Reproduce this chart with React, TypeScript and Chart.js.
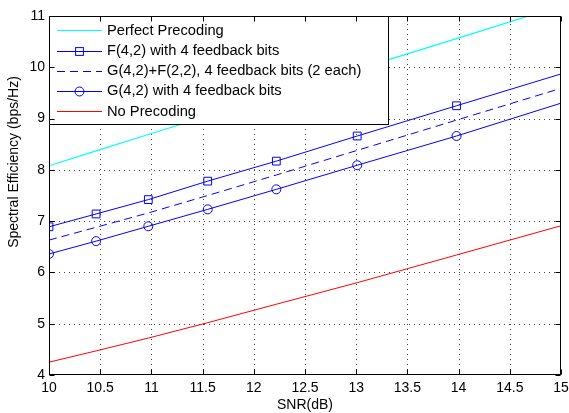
import React, { useEffect, useRef } from "react";
import { Chart, registerables } from "chart.js";

Chart.register(...registerables);

const snrDb = [10, 10.46, 10.97, 11.55, 12.22, 13.01, 13.98, 15];
const perfectPrecoding = [8.08, 8.37, 8.69, 9.05, 9.47, 9.96, 10.56, 11.2];
const f42 = [6.89, 7.14, 7.42, 7.78, 8.17, 8.66, 9.25, 9.87];
const g42f22 = [6.63, 6.88, 7.16, 7.5, 7.9, 8.38, 8.97, 9.59];
const g42 = [6.36, 6.61, 6.9, 7.23, 7.62, 8.09, 8.66, 9.3];
const noPrecoding = [4.25, 4.47, 4.72, 5.02, 5.38, 5.8, 6.34, 6.91];

const legendLabels = [
  "Perfect Precoding",
  "F(4,2) with 4 feedback bits",
  "G(4,2)+F(2,2), 4 feedback bits (2 each)",
  "G(4,2) with 4 feedback bits",
  "No Precoding",
];
const xTitle = "SNR(dB)";
const yTitle = "Spectral Efficiency (bps/Hz)";

const FONT = '"Liberation Sans", Arial, Helvetica, sans-serif';

const toXY = (ys: number[]) => ys.map((y, i) => ({ x: snrDb[i], y }));
const markerRadii = (r: number) => snrDb.map((_, i) => (i === snrDb.length - 1 ? 0 : r));

const matlabPlugin = {
  id: "matlabDecor",
  beforeDatasetsDraw(chart: any) {
    const { ctx, chartArea: a, scales } = chart;
    ctx.save();
    ctx.strokeStyle = "rgba(0,0,0,0.75)";
    ctx.lineWidth = 1;
    ctx.setLineDash([1, 4]);
    scales.x.ticks.forEach((t: any) => {
      const px = Math.round(scales.x.getPixelForValue(t.value)) + 0.5;
      if (px <= a.left + 1 || px >= a.right - 1) return;
      ctx.beginPath();
      ctx.moveTo(px, a.bottom);
      ctx.lineTo(px, a.top);
      ctx.stroke();
    });
    scales.y.ticks.forEach((t: any) => {
      const py = Math.round(scales.y.getPixelForValue(t.value)) + 0.5;
      if (py <= a.top + 1 || py >= a.bottom - 1) return;
      ctx.beginPath();
      ctx.moveTo(a.left, py);
      ctx.lineTo(a.right, py);
      ctx.stroke();
    });
    ctx.restore();
  },
  afterDatasetsDraw(chart: any) {
    const { ctx, chartArea: a, scales } = chart;
    ctx.save();
    // Legend box
    const lx = a.left;
    const ly = a.top;
    const lw = 339;
    const lh = 108;
    ctx.fillStyle = "#fff";
    ctx.fillRect(lx, ly, lw, lh);
    ctx.strokeStyle = "#000";
    ctx.lineWidth = 1;
    ctx.setLineDash([]);
    ctx.strokeRect(Math.round(lx) + 0.5, Math.round(ly) + 0.5, lw, lh);

    const ds = chart.data.datasets;
    const rowYs = [30, 50.5, 70.7, 90.7, 111];
    const x1 = 57;
    const x2 = 102;
    ctx.font = `14.7px ${FONT}`;
    ctx.textBaseline = "middle";
    ctx.textAlign = "left";
    legendLabels.forEach((label, i) => {
      const d = ds[i];
      const y = Math.round(rowYs[i]) + 0.5;
      ctx.strokeStyle = d.borderColor;
      ctx.lineWidth = 1;
      ctx.setLineDash(d.borderDash || []);
      ctx.beginPath();
      ctx.moveTo(x1, y);
      ctx.lineTo(x2, y);
      ctx.stroke();
      ctx.setLineDash([]);
      const mx = (x1 + x2) / 2;
      if (d.pointStyle === "rect") {
        ctx.strokeRect(mx - 3.9, y - 3.9, 7.8, 7.8);
      } else if (d.pointStyle === "circle") {
        ctx.beginPath();
        ctx.arc(mx, y, 4.5, 0, Math.PI * 2);
        ctx.stroke();
      }
      ctx.fillStyle = "#000";
      ctx.fillText(label, 107, rowYs[i] + 0.5);
    });

    // Axes box
    ctx.strokeStyle = "#000";
    ctx.lineWidth = 1;
    const L = Math.round(a.left) + 0.5;
    const R = Math.round(a.right) - 0.5;
    const T = Math.round(a.top) + 0.5;
    const B = Math.round(a.bottom) - 0.5;
    ctx.strokeRect(L, T, R - L, B - T);
    // inward ticks
    const tl = 5;
    ctx.beginPath();
    scales.x.ticks.forEach((t: any) => {
      const px = Math.round(scales.x.getPixelForValue(t.value)) + 0.5;
      ctx.moveTo(px, B);
      ctx.lineTo(px, B - tl);
      ctx.moveTo(px, T);
      ctx.lineTo(px, T + tl);
    });
    scales.y.ticks.forEach((t: any) => {
      const py = Math.round(scales.y.getPixelForValue(t.value)) + 0.5;
      ctx.moveTo(L, py);
      ctx.lineTo(L + tl, py);
      ctx.moveTo(R, py);
      ctx.lineTo(R - tl, py);
    });
    ctx.stroke();

    // Y title
    ctx.save();
    ctx.translate(14, 162);
    ctx.rotate(-Math.PI / 2);
    ctx.font = `14px ${FONT}`;
    ctx.textAlign = "center";
    ctx.textBaseline = "middle";
    ctx.fillStyle = "#000";
    ctx.fillText(yTitle, 0, 0);
    ctx.restore();

    // X title
    ctx.font = `14px ${FONT}`;
    ctx.textAlign = "center";
    ctx.textBaseline = "middle";
    ctx.fillStyle = "#000";
    ctx.fillText(xTitle, (a.left + a.right) / 2, 405);
    ctx.restore();
  },
};

export default function App() {
  const ref = useRef<HTMLCanvasElement | null>(null);
  useEffect(() => {
    if (!ref.current) return;
    const chart = new Chart(ref.current, {
      type: "line",
      data: {
        datasets: [
          {
            label: legendLabels[0],
            data: toXY(perfectPrecoding),
            borderColor: "#00ffff",
            borderWidth: 1.2,
            pointRadius: 0,
            pointStyle: "line",
            tension: 0,
          },
          {
            label: legendLabels[1],
            data: toXY(f42),
            borderColor: "#0000ff",
            borderWidth: 1,
            pointStyle: "rect",
            pointRadius: markerRadii(5.5),
            pointBorderColor: "#0000ff",
            pointBackgroundColor: "rgba(0,0,0,0)",
            pointBorderWidth: 1,
            tension: 0,
          },
          {
            label: legendLabels[2],
            data: toXY(g42f22),
            borderColor: "#0000ff",
            borderWidth: 1,
            borderDash: [8, 5],
            pointRadius: 0,
            pointStyle: "line",
            tension: 0,
          },
          {
            label: legendLabels[3],
            data: toXY(g42),
            borderColor: "#0000ff",
            borderWidth: 1,
            pointStyle: "circle",
            pointRadius: markerRadii(4.5),
            pointBorderColor: "#0000ff",
            pointBackgroundColor: "rgba(0,0,0,0)",
            pointBorderWidth: 1,
            tension: 0,
          },
          {
            label: legendLabels[4],
            data: toXY(noPrecoding),
            borderColor: "#ff0000",
            borderWidth: 1,
            pointRadius: 0,
            pointStyle: "line",
            tension: 0,
          },
        ],
      },
      options: {
        animation: false,
        responsive: true,
        maintainAspectRatio: false,
        events: [],
        layout: { padding: { top: 16, right: 8, left: 0, bottom: 0 } },
        plugins: {
          legend: { display: false },
          tooltip: { enabled: false },
        },
        scales: {
          x: {
            type: "linear",
            min: 10,
            max: 15,
            grid: { display: false, drawTicks: false },
            border: { display: false },
            ticks: {
              stepSize: 0.5,
              color: "#000",
              padding: 5,
              maxRotation: 0,
              autoSkip: false,
              font: { family: FONT, size: 14 },
              callback: (v: any) => String(Math.round(Number(v) * 10) / 10),
            },
            afterFit: (s: any) => {
              s.height = 38;
              s.paddingRight = 0;
              s.paddingLeft = 0;
            },
          },
          y: {
            type: "linear",
            min: 4,
            max: 11,
            grid: { display: false, drawTicks: false },
            border: { display: false },
            ticks: {
              stepSize: 1,
              color: "#000",
              padding: 4,
              font: { family: FONT, size: 14 },
              callback: (v: any) => String(v),
            },
            afterFit: (s: any) => {
              s.width = 49;
              s.paddingTop = 0;
              s.paddingBottom = 0;
            },
          },
        },
      },
      plugins: [matlabPlugin],
    });
    return () => chart.destroy();
  }, []);
  return (
    <div style={{ position: "absolute", left: 0, top: 0, width: 569, height: 413, background: "#fff" }}>
      <canvas ref={ref} />
    </div>
  );
}
